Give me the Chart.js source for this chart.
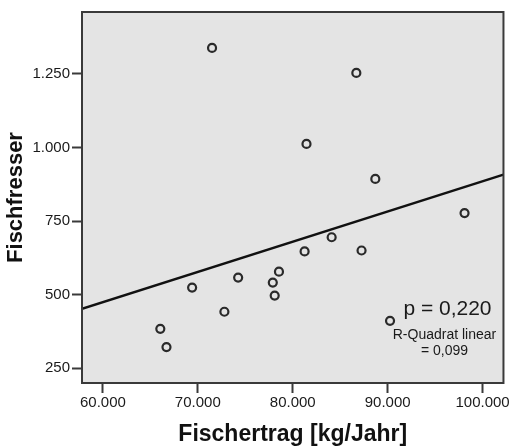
<!DOCTYPE html>
<html><head><meta charset="utf-8">
<script src="https://cdn.jsdelivr.net/npm/chart.js@4/dist/chart.umd.min.js"></script>
<style>html,body{margin:0;padding:0;background:#fff}#wrap{width:511px;height:446px}</style>
</head><body><div id="wrap"><canvas id="c" width="511" height="446"></canvas></div>
<script>
const fischertrag = [71500, 86700, 81450, 88700, 98100, 66050, 66700, 69400, 72800, 74250, 78550, 77900, 78100, 81250, 84100, 87250, 90250];
const fischfresser = [1338, 1253, 1012, 893, 777, 384, 322, 524, 442, 558, 578, 541, 497, 647, 695, 650, 411];
const fitX = [57800, 102200];
const fitY = [452, 908];
const xTicks = [60000, 70000, 80000, 90000, 100000];
const yTicks = [250, 500, 750, 1000, 1250];
const xTitle = 'Fischertrag [kg/Jahr]';
const yTitle = 'Fischfresser';
const noteP = 'p = 0,220';
const noteR = ['R-Quadrat linear', '= 0,099'];

const fmt = v => String(v).replace(/\B(?=(\d{3})+(?!\d))/g, '.');
const font = 'Liberation Sans, Arial, sans-serif';

const bgPlugin = {
  id: 'bg',
  beforeDraw(chart) {
    const {ctx, chartArea: a} = chart;
    ctx.save();
    ctx.fillStyle = '#e4e4e4';
    ctx.fillRect(a.left, a.top, a.right - a.left, a.bottom - a.top);
    ctx.restore();
  },
  afterDraw(chart) {
    const {ctx, chartArea: a} = chart;
    ctx.save();
    ctx.strokeStyle = '#3a3a3a';
    ctx.lineWidth = 2;
    ctx.strokeRect(a.left, a.top, a.right - a.left, a.bottom - a.top);
    ctx.fillStyle = '#1a1a1a';
    ctx.textAlign = 'center';
    ctx.textBaseline = 'middle';
    ctx.font = '21px ' + font;
    ctx.fillText(noteP, a.right - 56, a.top + 297);
    ctx.font = '14px ' + font;
    ctx.fillText(noteR[0], a.right - 59, a.top + 323);
    ctx.fillText(noteR[1], a.right - 59, a.top + 339);
    ctx.restore();
  }
};

new Chart(document.getElementById('c'), {
  data: {
    datasets: [
      {
        type: 'scatter',
        data: fischertrag.map((x, i) => ({x, y: fischfresser[i]})),
        pointRadius: 4,
        pointBorderWidth: 2.2,
        pointBorderColor: '#2a2a2a',
        pointBackgroundColor: 'rgba(0,0,0,0)',
        pointHoverRadius: 4
      },
      {
        type: 'line',
        data: fitX.map((x, i) => ({x, y: fitY[i]})),
        borderColor: '#111',
        borderWidth: 2.4,
        pointRadius: 0,
        fill: false
      }
    ]
  },
  plugins: [bgPlugin],
  options: {
    responsive: false,
    animation: false,
    events: [],
    layout: {padding: {left: 0, right: 5, top: 12, bottom: 0}},
    plugins: {legend: {display: false}, tooltip: {enabled: false}},
    scales: {
      x: {
        type: 'linear',
        min: 57800, max: 102200,
        afterBuildTicks: s => { s.ticks = xTicks.map(v => ({value: v})); },
        afterFit: s => { s.height = 63; },
        grid: {drawOnChartArea: false, drawTicks: true, tickLength: 10, tickWidth: 2, tickColor: '#3a3a3a'},
        border: {display: true, color: '#3a3a3a', width: 2},
        ticks: {callback: v => fmt(v), color: '#1a1a1a', font: {family: font, size: 15}, padding: 1, maxRotation: 0, autoSkip: false},
        title: {display: true, text: xTitle, color: '#111', font: {family: font, size: 23, weight: 'bold', lineHeight: 1.0}, padding: 0}
      },
      y: {
        type: 'linear',
        min: 200, max: 1460,
        afterBuildTicks: s => { s.ticks = yTicks.map(v => ({value: v})); },
        afterFit: s => { s.width = 82; },
        grid: {drawOnChartArea: false, drawTicks: true, tickLength: 10, tickWidth: 2, tickColor: '#3a3a3a'},
        border: {display: true, color: '#3a3a3a', width: 2},
        ticks: {callback: v => fmt(v), color: '#1a1a1a', font: {family: font, size: 15}, padding: 2, autoSkip: false},
        title: {display: true, text: yTitle, color: '#111', font: {family: font, size: 22, weight: 'bold', lineHeight: 1.0}, padding: {top: 5, bottom: 0}}
      }
    }
  }
});
</script></body></html>
